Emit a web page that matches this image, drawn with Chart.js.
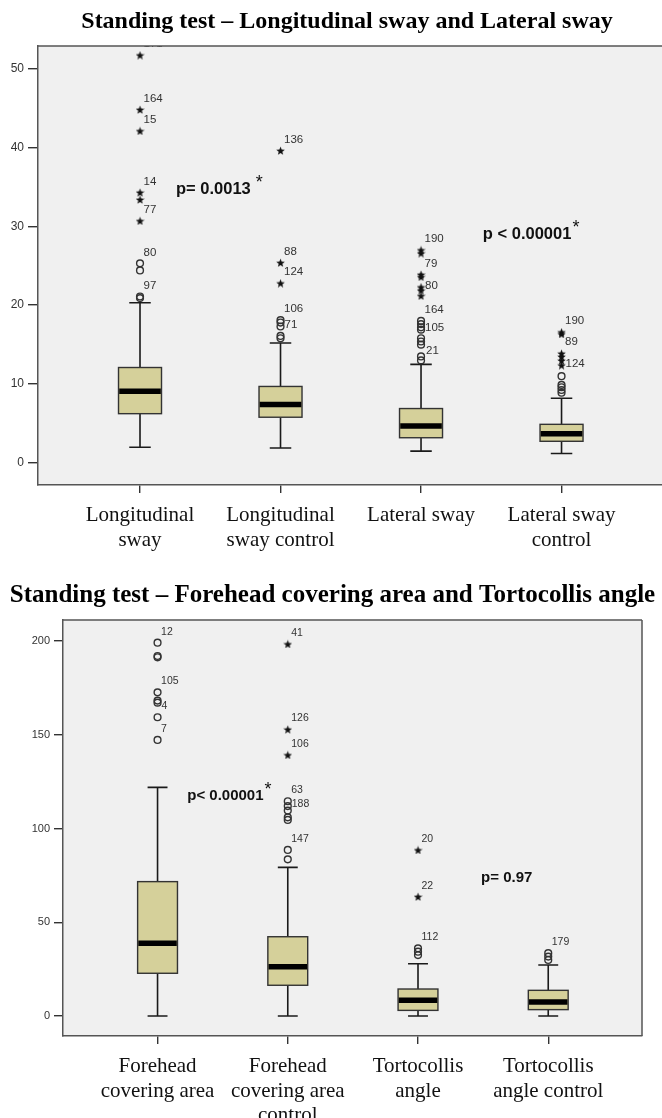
<!DOCTYPE html>
<html><head><meta charset="utf-8">
<script src="https://cdn.jsdelivr.net/npm/chart.js@4.4.1/dist/chart.umd.min.js"></script>
<style>
html,body{margin:0;padding:0;background:#fff;overflow:hidden;width:662px;height:1118px;}
canvas{position:absolute;left:0;display:block;}
#c1{top:0}#c2{top:560px}
</style></head><body>
<canvas id="c1" width="662" height="560"></canvas>
<canvas id="c2" width="662" height="558"></canvas>
<script>
// ---------- Top chart data ----------
const catsTop = [['Longitudinal','sway'],['Longitudinal','sway control'],['Lateral sway'],['Lateral sway','control']];
const yTicksTop = [0,10,20,30,40,50];
const minTop = [2.0, 1.9, 1.5, 1.2];
const q1Top  = [6.25, 5.8, 3.2, 2.75];
const medTop = [9.1, 7.4, 4.7, 3.7];
const q3Top  = [12.1, 9.7, 6.9, 4.9];
const maxTop = [20.3, 15.2, 12.5, 8.2];
const circlesTop = [[25.3,24.4,21.1,20.9],[18.1,17.8,17.3,16.1,15.8],[18.0,17.6,17.2,16.9,15.8,15.4,15.0,13.5,13.0],[11.0,9.9,9.6,9.25,8.9]];
const starsTop = [[51.7,44.8,42.1,34.3,33.4,30.7],[39.6,25.4,22.8],[27.0,26.6,23.9,23.6,22.3,21.9,21.2],[16.6,16.35,13.9,13.5,13.0,12.4]];
const labelsTop = [
  [0,51.7,'171','a'],[0,44.8,'164','a'],[0,42.1,'15','a'],[0,34.3,'14','a'],[0,30.7,'77','a'],[0,25.3,'80','a'],[0,21.1,'97','a'],
  [1,39.6,'136','a'],[1,25.4,'88','a'],[1,22.8,'124','a'],[1,18.1,'106','a'],[1,17.3,'71','r'],
  [2,27.0,'190','a'],[2,23.9,'79','a'],[2,22.3,'80','r'],[2,18.0,'164','a'],[2,16.9,'105','r'],[2,13.5,'21','a2'],
  [3,16.6,'190','a'],[3,13.9,'89','a'],[3,12.4,'124','r']
];
const pTop = ['p= 0.0013','p < 0.00001'];

// ---------- Bottom chart data ----------
const catsBot = [['Forehead','covering area'],['Forehead','covering area','control'],['Tortocollis','angle'],['Tortocollis','angle control']];
const yTicksBot = [0,50,100,150,200];
const minBot = [0, 0, 0, 0];
const q1Bot  = [22.8, 16.4, 3.0, 3.4];
const medBot = [38.8, 26.3, 8.4, 7.5];
const q3Bot  = [71.7, 42.3, 14.4, 13.7];
const maxBot = [122, 79.3, 27.9, 27.2];
const circlesBot = [[199.2,192.1,191.4,172.7,168.3,167.2,159.4,147.3],[114.6,112,109.6,106,104.6,88.6,83.6],[36.1,34.3,32.5],[33.5,31.7,29.9]];
const starsBot = [[],[198.5,153,139.3],[88.6,63.7],[]];
const labelsBot = [
  [0,199.2,'12','a'],[0,172.7,'105','a'],[0,167.2,'4','rb'],[0,147.3,'7','a'],
  [1,198.5,'41','a'],[1,153,'126','a'],[1,139.3,'106','a'],[1,114.6,'63','a'],[1,112,'188','r'],[1,88.6,'147','a'],
  [2,88.6,'20','a'],[2,63.7,'22','a'],[2,36.1,'112','a'],
  [3,33.5,'179','a']
];
const pBot = ['p< 0.00001','p= 0.97'];

// ---------- helpers ----------
Chart.defaults.font.family = "'Liberation Sans', Arial, sans-serif";
const BOXW = 0.306;
const BOXFILL = '#d5d09a';
const INK = '#1a1a1a';

function makeStar(size){
  const c=document.createElement('canvas'); c.width=c.height=size;
  const g=c.getContext('2d'); g.fillStyle='#111'; g.beginPath();
  const R=size/2, r=R*0.42;
  for(let k=0;k<10;k++){const a=-Math.PI/2+k*Math.PI/5; const rad=k%2?r:R; g.lineTo(R+rad*Math.cos(a), R+0.6+rad*Math.sin(a));}
  g.closePath(); g.fill(); return c;
}
const starImg = makeStar(9);

function pts(arr){ const out=[]; arr.forEach((vals,i)=>vals.forEach(v=>out.push({x:i,y:v}))); return out; }

function makeChart(el, o){
  const boxPlugin = {
    id:'boxes',
    beforeDraw(chart){
      const {ctx, chartArea:a} = chart;
      ctx.save(); ctx.fillStyle='#f0f0f0'; ctx.fillRect(a.left,a.top,a.right-a.left,a.bottom-a.top); ctx.restore();
    },
    beforeDatasetsDraw(chart){
      const {ctx, scales:{x,y}} = chart;
      ctx.save();
      for(let i=0;i<o.med.length;i++){
        const cx=x.getPixelForValue(i);
        const hw=(x.getPixelForValue(i+BOXW/2)-cx);
        const yq1=y.getPixelForValue(o.q1[i]), yq3=y.getPixelForValue(o.q3[i]);
        const ymn=y.getPixelForValue(o.min[i]), ymx=y.getPixelForValue(o.max[i]);
        const ymd=y.getPixelForValue(o.med[i]);
        ctx.strokeStyle=INK; ctx.lineWidth=1.6;
        ctx.beginPath();
        ctx.moveTo(cx,yq3); ctx.lineTo(cx,ymx);
        ctx.moveTo(cx-hw/2,ymx); ctx.lineTo(cx+hw/2,ymx);
        ctx.moveTo(cx,yq1); ctx.lineTo(cx,ymn);
        ctx.moveTo(cx-hw/2,ymn); ctx.lineTo(cx+hw/2,ymn);
        ctx.stroke();
        ctx.fillStyle=BOXFILL; ctx.fillRect(cx-hw,yq3,2*hw,yq1-yq3);
        ctx.strokeStyle='#333'; ctx.lineWidth=1.4; ctx.strokeRect(cx-hw,yq3,2*hw,yq1-yq3);
        ctx.strokeStyle='#000'; ctx.lineWidth=5.5;
        ctx.beginPath(); ctx.moveTo(cx-hw+0.7,ymd); ctx.lineTo(cx+hw-0.7,ymd); ctx.stroke();
      }
      ctx.restore();
    },
    afterDatasetsDraw(chart){
      const {ctx, chartArea:a, scales:{x,y}} = chart;
      ctx.save();
      ctx.beginPath(); ctx.rect(a.left,a.top,a.right-a.left,a.bottom-a.top); ctx.clip();
      ctx.fillStyle='#333'; ctx.font=o.labFont; ctx.textAlign='left'; ctx.textBaseline='middle';
      o.labels.forEach(([c,v,t,s])=>{
        const px=x.getPixelForValue(c), py=y.getPixelForValue(v);
        if(s==='a') ctx.fillText(t,px+3.5,py-11);
        else if(s==='a2') ctx.fillText(t,px+5,py-6);
        else if(s==='rb') ctx.fillText(t,px+4,py+3);
        else ctx.fillText(t,px+4,py-1.5);
      });
      ctx.restore();
      // annotations
      ctx.save();
      ctx.fillStyle='#111'; ctx.textBaseline='middle'; ctx.textAlign='left';
      o.ann.forEach(an=>{
        const px=x.getPixelForValue(an.x), py=y.getPixelForValue(an.y);
        ctx.font="bold "+an.fs+"px 'Liberation Sans', Arial";
        ctx.fillText(an.t,px,py);
        if(an.star){
          const w=ctx.measureText(an.t).width;
          ctx.font="18px 'Liberation Sans', Arial";
          ctx.fillText('*',px+w+an.ax,py-6);
        }
      });
      ctx.restore();
    },
    afterDraw(chart){
      const {ctx, chartArea:a} = chart;
      ctx.save();
      ctx.strokeStyle='#555'; ctx.lineWidth=1.5;
      ctx.beginPath(); ctx.moveTo(a.left,a.top); ctx.lineTo(a.right,a.top);
      if(o.rightBorder){ ctx.moveTo(a.right,a.top); ctx.lineTo(a.right,a.bottom); }
      ctx.stroke();
      ctx.fillStyle='#000'; ctx.font=o.titleFont; ctx.textAlign='center'; ctx.textBaseline='middle';
      ctx.fillText(o.title,o.titleX,o.titleY);
      ctx.restore();
    }
  };
  return new Chart(el,{
    type:'scatter',
    data:{datasets:[
      {data:pts(o.circles), pointStyle:'circle', pointRadius:3.4, backgroundColor:'rgba(0,0,0,0)', borderColor:'#333', borderWidth:1.4},
      {data:pts(o.stars), pointStyle:starImg, pointRadius:4.5}
    ]},
    options:{
      responsive:false, animation:false, events:[],
      layout:{padding:o.pad, autoPadding:false},
      plugins:{legend:{display:false}, tooltip:{enabled:false}, title:{display:false}},
      scales:{
        x:{type:'linear', min:-0.726, max:o.xmax,
          afterBuildTicks(ax){ ax.ticks=o.cats.map((c,i)=>({value:i})); },
          afterFit(ax){ ax.height=o.xh; ax.paddingLeft=0; ax.paddingRight=0; },
          grid:{drawOnChartArea:false, drawTicks:true, tickLength:8, color:'#333', lineWidth:1.4},
          border:{display:true, color:'#555', width:1.5},
          ticks:{autoSkip:false, maxRotation:0, padding:o.xpad, color:'#111',
            font:{family:"'Liberation Serif','Times New Roman',serif", size:21, lineHeight:1.18},
            callback:(v)=>o.cats[v]}
        },
        y:{type:'linear', min:o.ymin, max:o.ymax,
          afterBuildTicks(ax){ ax.ticks=o.yticks.map(v=>({value:v})); },
          afterFit(ax){ ax.width=o.yw; ax.paddingTop=0; ax.paddingBottom=0; },
          grid:{drawOnChartArea:false, drawTicks:true, tickLength:o.ytl, color:'#333', lineWidth:1.4},
          border:{display:true, color:'#555', width:1.5},
          ticks:{padding:4, color:'#333', font:{size:o.ytf}, callback:(v)=>v}
        }
      }
    },
    plugins:[boxPlugin]
  });
}

makeChart(document.getElementById('c1'),{
  cats:catsTop, yticks:yTicksTop, min:minTop, q1:q1Top, med:medTop, q3:q3Top, max:maxTop,
  circles:circlesTop, stars:starsTop, labels:labelsTop,
  ann:[{x:0.256,y:34.7,t:pTop[0],ax:5,fs:16.5,star:true},{x:2.44,y:29.0,t:pTop[1],ax:1,fs:16.5,star:true}],
  ymin:-2.79, ymax:52.85, xmax:3.715, pad:{top:46,left:0,right:0,bottom:0}, xh:75, yw:38, ytl:10, ytf:12, xpad:10,
  labFont:"11.5px 'Liberation Sans', Arial", rightBorder:false,
  title:'Standing test \u2013 Longitudinal sway and Lateral sway', titleFont:"bold 24px 'Liberation Serif','Times New Roman',serif", titleX:347, titleY:22
});
makeChart(document.getElementById('c2'),{
  cats:catsBot, yticks:yTicksBot, min:minBot, q1:q1Bot, med:medBot, q3:q3Bot, max:maxBot,
  circles:circlesBot, stars:starsBot, labels:labelsBot,
  ann:[{x:0.228,y:117.6,t:pBot[0],ax:1,fs:15,star:true},{x:2.484,y:73.6,t:pBot[1],ax:0,fs:15,star:false}],
  ymin:-10.67, ymax:211.3, xmax:3.72, pad:{top:60,left:0,right:20,bottom:0}, xh:82, yw:63, ytl:9, ytf:11, xpad:10,
  labFont:"10.5px 'Liberation Sans', Arial", rightBorder:true,
  title:'Standing test \u2013 Forehead covering area and Tortocollis angle', titleFont:"bold 25px 'Liberation Serif','Times New Roman',serif", titleX:332.5, titleY:36
});
</script>
</body></html>
